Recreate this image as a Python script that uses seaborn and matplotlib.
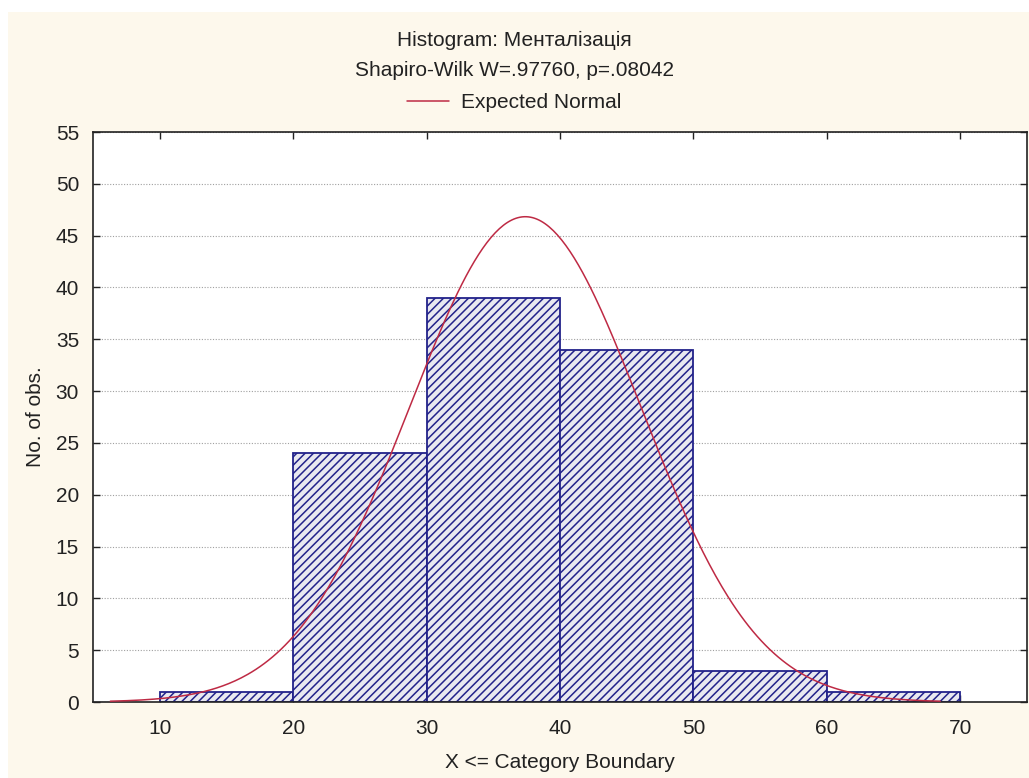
import numpy as np
import pandas as pd
import matplotlib
matplotlib.use("Agg")
import matplotlib.pyplot as plt
from matplotlib.lines import Line2D
from matplotlib.patches import Rectangle
import seaborn as sns

# Histogram data: category boundaries and counts per category
bin_edges = [10, 20, 30, 40, 50, 60, 70]
counts = [1, 24, 39, 34, 3, 1]

# Expected normal fitted to the sample
n_obs = 102
fit_mean = 37.4
fit_sd = 8.69
curve_range = (6.3, 68.5)

title_line1 = "Histogram: Менталізація"
title_line2 = "Shapiro-Wilk W=.97760, p=.08042"
legend_label = "Expected Normal"
x_label = "X <= Category Boundary"
y_label = "No. of obs."
x_ticks = [10, 20, 30, 40, 50, 60, 70]
y_ticks = [0, 5, 10, 15, 20, 25, 30, 35, 40, 45, 50, 55]

sns.set_style("white")
plt.rcParams["font.family"] = ["Liberation Sans", "DejaVu Sans"]
plt.rcParams["hatch.linewidth"] = 1.1

W, H = 1029, 778
bg = "#fdf8ec"
navy = "#22228a"
red = "#be2a44"
txt = "#222222"
fs = 15

fig = plt.figure(figsize=(W / 100, H / 100), dpi=100, facecolor=bg)
# thin white bands along the top and left edges
fig.patches.append(Rectangle((0, 1 - 12 / H), 1, 12 / H, transform=fig.transFigure,
                             facecolor="white", edgecolor="none", zorder=0))
fig.patches.append(Rectangle((0, 0), 8 / W, 1, transform=fig.transFigure,
                             facecolor="white", edgecolor="none", zorder=0))

ax = fig.add_axes([93 / W, 1 - 702 / H, (1027 - 93) / W, (702 - 132) / H])
ax.set_facecolor("white")

centers = [(a + b) / 2 for a, b in zip(bin_edges[:-1], bin_edges[1:])]
df = pd.DataFrame({"x": centers, "n": counts})
sns.histplot(data=df, x="x", weights="n", bins=bin_edges, ax=ax,
             stat="count", color="white", edgecolor=navy, linewidth=1.3,
             alpha=1, zorder=2)
for p in ax.patches:
    p.set_hatch("////")
    p.set_facecolor("#e8e8f0")
    p.set_edgecolor(navy)

xs = np.linspace(curve_range[0], curve_range[1], 400)
width = bin_edges[1] - bin_edges[0]
ys = n_obs * width / (fit_sd * np.sqrt(2 * np.pi)) * np.exp(-0.5 * ((xs - fit_mean) / fit_sd) ** 2)
sns.lineplot(x=xs, y=ys, ax=ax, color=red, linewidth=1.1, zorder=3)

ax.set_xlim(5, 75)
ax.set_ylim(0, 55)
ax.set_xticks(x_ticks)
ax.set_yticks(y_ticks)
ax.tick_params(axis="both", direction="in", length=5, width=1, labelsize=fs,
               top=True, right=True, bottom=True, left=True, colors=txt)
ax.tick_params(axis="y", pad=10)
ax.tick_params(axis="x", pad=12)
ax.yaxis.grid(True, linestyle=(0, (1, 1.5)), color="#a0a0a0", linewidth=0.8, zorder=0)
ax.xaxis.grid(False)
ax.set_axisbelow(True)
for s in ax.spines.values():
    s.set_color(txt)
    s.set_linewidth(1.2)

ax.set_xlabel(x_label, fontsize=fs, color=txt, labelpad=11)
ax.set_ylabel(y_label, fontsize=fs, color=txt, labelpad=8)

fig.text(0.5, 1 - 40 / H, title_line1, ha="center", va="center", fontsize=fs, color=txt)
fig.text(0.5, 1 - 71 / H, title_line2, ha="center", va="center", fontsize=fs, color=txt)
fig.legend(handles=[Line2D([0], [0], color=red, linewidth=1.1)], labels=[legend_label],
           loc="center", bbox_to_anchor=(0.5, 1 - 103 / H), frameon=False,
           fontsize=fs, handlelength=2.0, handletextpad=0.6, labelcolor=txt)

fig.savefig("out.png", dpi=100, facecolor=bg)
